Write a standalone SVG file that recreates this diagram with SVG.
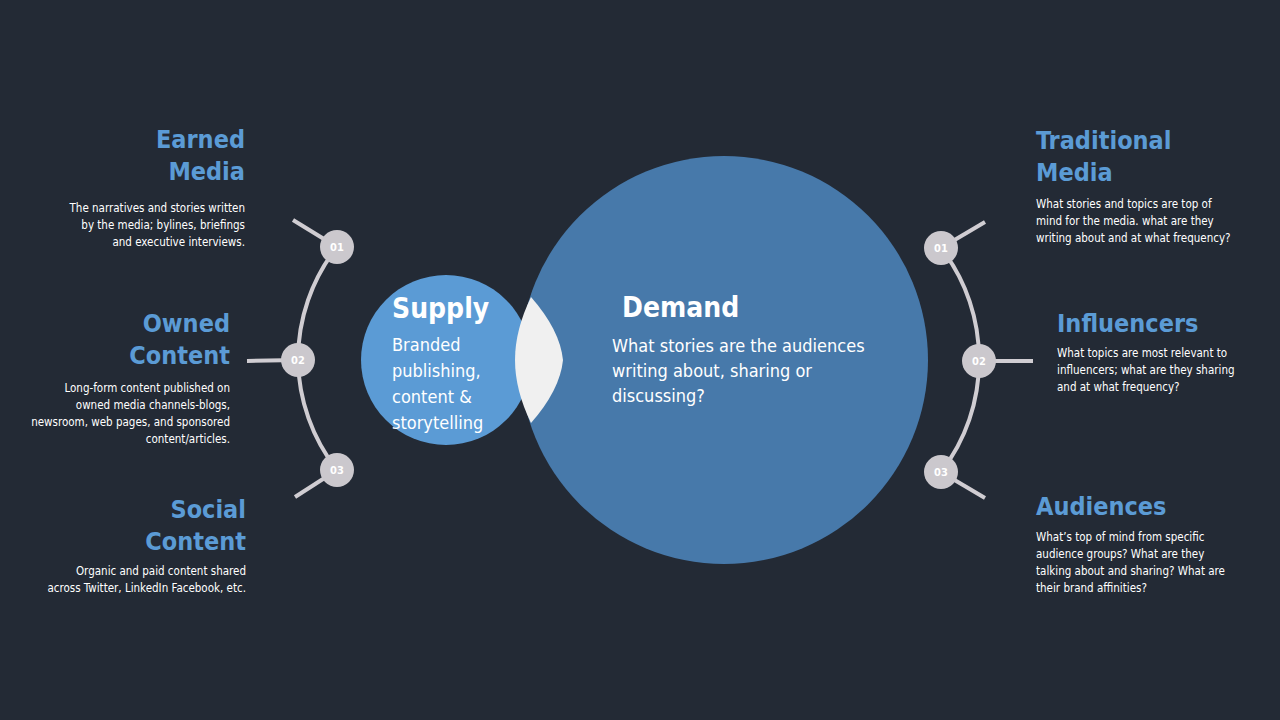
<svg xmlns="http://www.w3.org/2000/svg" width="1280" height="720" viewBox="0 0 1280 720">
<style>
.t{font-family:"DejaVu Sans Condensed","DejaVu Sans",sans-serif;font-stretch:condensed;font-weight:bold;font-size:25px;fill:#5b9bd5}
.b{font-family:"DejaVu Sans Condensed","DejaVu Sans",sans-serif;font-stretch:condensed;font-size:11.5px;fill:#ffffff}
.n{font-family:"DejaVu Sans Condensed","DejaVu Sans",sans-serif;font-weight:bold;font-size:11px;fill:#ffffff;text-anchor:middle}
.w{font-family:"DejaVu Sans Condensed","DejaVu Sans",sans-serif;fill:#ffffff}
.ln{stroke:#d0cdd2;stroke-width:4;fill:none}
.dot{fill:#cbc8cd}
.r{text-anchor:end}
</style>
<rect width="1280" height="720" fill="#232a35"/>
<defs>
<clipPath id="cs"><circle cx="446" cy="360" r="85"/></clipPath>
</defs>
<g id="demand">
<circle cx="724" cy="360" r="204" fill="#4779aa"/>
<text class="w" x="622" y="317" font-size="28" font-weight="bold">Demand</text>
<text class="w" x="612" y="352" font-size="18">What stories are the audiences</text>
<text class="w" x="612" y="377" font-size="18">writing about, sharing or</text>
<text class="w" x="612" y="402" font-size="18">discussing?</text>
</g>
<g id="supply">
<circle cx="446" cy="360" r="85" fill="#5b9bd5"/>
<circle cx="724" cy="360" r="204" fill="#ffffff" clip-path="url(#cs)"/>
<path d="M531 297 Q560 330 563 360 Q560 390 531 423 Q515 390 515 360 Q515 330 531 297 Z" fill="#f0f0f0"/>
<text class="w" x="392" y="318" font-size="28" font-weight="bold">Supply</text>
<text class="w" x="392" y="351" font-size="18">Branded</text>
<text class="w" x="392" y="377" font-size="18">publishing,</text>
<text class="w" x="392" y="403" font-size="18">content &amp;</text>
<text class="w" x="392" y="429" font-size="18">storytelling</text>
</g>
<g id="connectors">
<path class="ln" d="M337 247 A183 183 0 0 0 298 360 A183 183 0 0 0 337 470"/>
<line class="ln" x1="337" y1="247" x2="293" y2="220"/>
<line class="ln" x1="298" y1="360" x2="247" y2="361"/>
<line class="ln" x1="337" y1="470" x2="295" y2="497"/>
<path class="ln" d="M941 248 A180 180 0 0 1 979 361 A180 180 0 0 1 941 472"/>
<line class="ln" x1="941" y1="248" x2="985" y2="222"/>
<line class="ln" x1="979" y1="361" x2="1033" y2="361"/>
<line class="ln" x1="941" y1="472" x2="985" y2="498"/>
</g>
<g id="l01"><circle class="dot" cx="337" cy="247" r="17"/><text class="n" x="337" y="251">01</text></g>
<g id="l02"><circle class="dot" cx="298" cy="360" r="17"/><text class="n" x="298" y="364">02</text></g>
<g id="l03"><circle class="dot" cx="337" cy="470" r="17"/><text class="n" x="337" y="474">03</text></g>
<g id="r01"><circle class="dot" cx="941" cy="248" r="17"/><text class="n" x="941" y="252">01</text></g>
<g id="r02"><circle class="dot" cx="979" cy="361" r="17"/><text class="n" x="979" y="365">02</text></g>
<g id="r03"><circle class="dot" cx="941" cy="472" r="17"/><text class="n" x="941" y="476">03</text></g>
<g id="earned">
<text class="t r" x="245" y="148">Earned</text>
<text class="t r" x="245" y="180">Media</text>
<text class="b r" x="245" y="212">The narratives and stories written</text>
<text class="b r" x="245" y="229">by the media; bylines, briefings</text>
<text class="b r" x="245" y="246">and executive interviews.</text>
</g>
<g id="owned">
<text class="t r" x="230" y="332">Owned</text>
<text class="t r" x="230" y="364">Content</text>
<text class="b r" x="230" y="392">Long-form content published on</text>
<text class="b r" x="230" y="409">owned media channels-blogs,</text>
<text class="b r" x="230" y="426">newsroom, web pages, and sponsored</text>
<text class="b r" x="230" y="443">content/articles.</text>
</g>
<g id="social">
<text class="t r" x="246" y="518">Social</text>
<text class="t r" x="246" y="550">Content</text>
<text class="b r" x="246" y="575">Organic and paid content shared</text>
<text class="b r" x="246" y="592">across Twitter, LinkedIn Facebook, etc.</text>
</g>
<g id="traditional">
<text class="t" x="1036" y="149">Traditional</text>
<text class="t" x="1036" y="181">Media</text>
<text class="b" x="1036" y="208">What stories and topics are top of</text>
<text class="b" x="1036" y="225">mind for the media. what are they</text>
<text class="b" x="1036" y="242">writing about and at what frequency?</text>
</g>
<g id="influencers">
<text class="t" x="1057" y="332">Influencers</text>
<text class="b" x="1057" y="357">What topics are most relevant to</text>
<text class="b" x="1057" y="374">influencers; what are they sharing</text>
<text class="b" x="1057" y="391">and at what frequency?</text>
</g>
<g id="audiences">
<text class="t" x="1036" y="515">Audiences</text>
<text class="b" x="1036" y="541">What’s top of mind from specific</text>
<text class="b" x="1036" y="558">audience groups?  What are they</text>
<text class="b" x="1036" y="575">talking about and sharing? What are</text>
<text class="b" x="1036" y="592">their brand affinities?</text>
</g>
</svg>
